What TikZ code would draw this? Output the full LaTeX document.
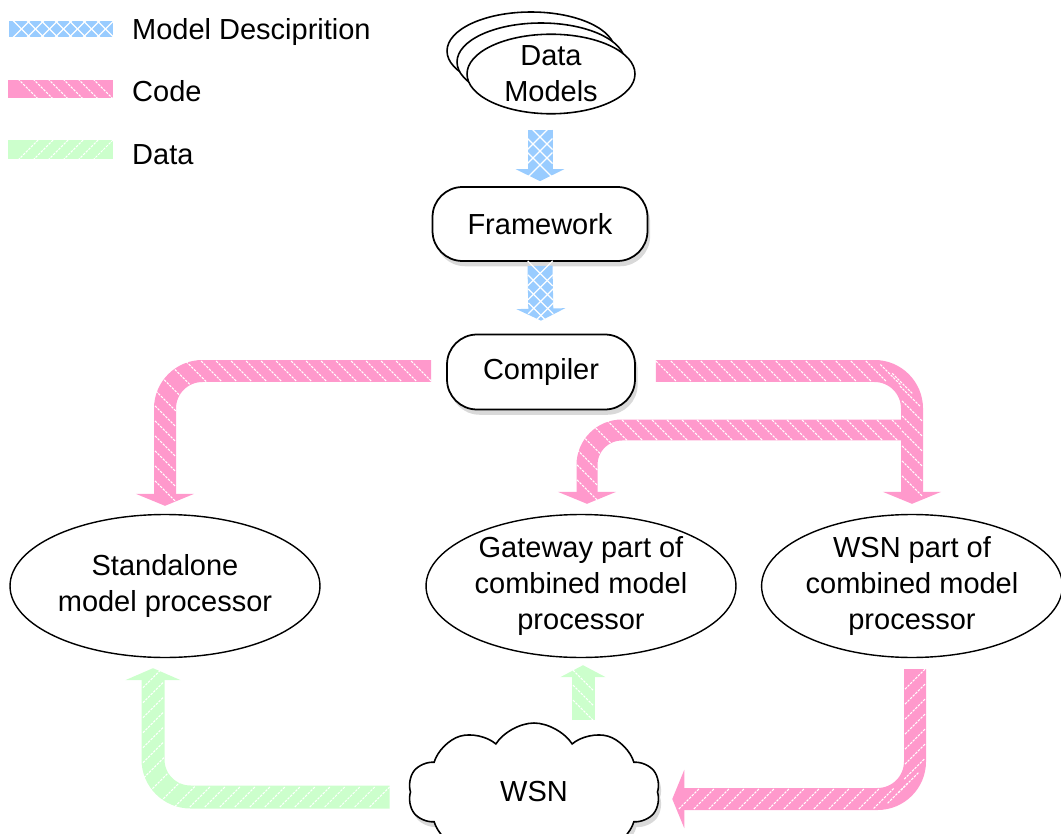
\documentclass[tikz,border=0pt]{standalone}
\usepackage{fontspec}
\setmainfont{Liberation Sans}
\usepackage{xcolor}
\usetikzlibrary{shapes.geometric, shapes.symbols, arrows.meta, positioning, shadows, decorations.markings}

\definecolor{descblue}{RGB}{153,204,255}
\definecolor{codepink}{RGB}{255,153,204}
\definecolor{datagreen}{RGB}{204,255,204}

\tikzset{
    lbl/.style={font=\fontsize{16.5}{20.5}\selectfont, align=center},
    box/.style={lbl, draw, line width=1pt, rounded corners=0.6cm, fill=white,
        drop shadow={opacity=0.3, shadow xshift=1.5pt, shadow yshift=-3pt}},
    proc/.style={lbl, draw, ellipse, line width=0.8pt, fill=white,
        minimum width=6.2cm, minimum height=2.86cm, inner sep=0pt},
    models/.style={lbl, draw, ellipse, line width=0.9pt, fill=white,
        minimum width=3.36cm, minimum height=1.56cm, inner sep=0pt},
    % hatching of the fat arrows
    stripe/.style={-, white, line width=0.6pt, dash pattern=on 1.4pt off 0.7pt},
    hatch back/.style={postaction={decorate, decoration={markings,
        mark=between positions 0.2cm and -0.1cm step 0.3cm with {\pgftransformresetnontranslations
        \draw[stripe] (-0.2cm,0.2cm) -- (0.2cm,-0.2cm);}}}},
    hatch fwd/.style={postaction={decorate, decoration={markings,
        mark=between positions 0.2cm and -0.1cm step 0.3cm with {\pgftransformresetnontranslations
        \draw[stripe] (-0.2cm,-0.2cm) -- (0.2cm,0.2cm);}}}},
    hatch cross/.style={postaction={decorate, decoration={markings,
        mark=between positions 0.15cm and -0.1cm step 0.28cm with {\pgftransformresetnontranslations
        \draw[stripe, solid, line width=0.7pt] (-0.25cm,0.25cm) -- (0.25cm,-0.25cm);
        \draw[stripe, solid, line width=0.7pt] (-0.25cm,-0.25cm) -- (0.25cm,0.25cm);}}}},
    codeband/.style={draw=codepink, line width=0.44cm, #1},
    codeband/.default=hatch back,
    databand/.style={draw=datagreen, line width=0.46cm, #1},
    databand/.default=hatch fwd,
    descband/.style={draw=descblue, line width=0.5cm, hatch cross},
    fattip/.style={-{Triangle[width=#1, length=0.24cm]}},
    fattip/.default=1.16cm
}

\begin{document}
\begin{tikzpicture}[x=0.02cm, y=-0.02cm]
    \useasboundingbox (0,0) rectangle (1061,834);

    % Legend
    \node[lbl, anchor=west] (ldesc) at (126,32) {Model Desciprition};
    \node[lbl, anchor=west] (lcode) at (126,91) {Code};
    \node[lbl, anchor=west] (ldata) at (126,155) {Data};
    \draw[descband, line width=0.32cm] ([xshift=-0.26cm, yshift=0.06cm]ldesc.west) -- ++(-2.08cm,0);
    \draw[codeband, line width=0.36cm] ([xshift=-0.26cm, yshift=0.04cm]lcode.west) -- ++(-2.1cm,0);
    \draw[databand, line width=0.38cm] ([xshift=-0.26cm, yshift=0.1cm]ldata.west) -- ++(-2.1cm,0);

    % Data models (stacked)
    \node[models] (dm3) at (531,51) {};
    \node[models] (dm2) at (541,62) {};
    \node[models] (dm) at (551,74) {Data\\Models};

    % Tool chain
    \node[box, minimum width=4.3cm, minimum height=1.48cm] (fw) at (540,224) {Framework};
    \node[box, minimum width=3.76cm, minimum height=1.5cm] (comp) at (541,372) {Compiler};

    % Model processors
    \node[proc] (sa) at (165,586) {Standalone\\model processor};
    \node[proc] (gw) at (581,586) {Gateway part of\\combined model\\processor};
    \node[proc, minimum width=6cm] (wp) at (912,586) {WSN part of\\combined model\\processor};

    % Network
    \node[lbl, draw, cloud, cloud puffs=10, cloud puff arc=115, cloud ignores aspect,
        line width=0.9pt, fill=white, minimum width=5.04cm, minimum height=2.76cm,
        drop shadow={opacity=0.3, shadow xshift=1.5pt, shadow yshift=-3pt}] (wsn) at (534,792) {WSN};

    % Model description flow
    \draw[descband, fattip=0.97cm] ([yshift=-0.3cm]fw.north |- dm.south) -- ([yshift=0.1cm]fw.north);
    \draw[descband, fattip=0.97cm] ([yshift=-0.08cm]fw.south) -- ([yshift=0.26cm]comp.north);

    % Code flow
    \coordinate (fork) at (912,430);
    \draw[codeband, fattip, line width=0.42cm, rounded corners=0.7cm] (fork) -| ([xshift=0.12cm, yshift=0.2cm]gw.north);
    \draw[codeband, fattip, rounded corners=0.75cm] ([xshift=-0.3cm, yshift=0.02cm]comp.west) -| ([yshift=0.16cm]sa.north);
    \draw[codeband, fattip, rounded corners=0.75cm] ([xshift=0.4cm, yshift=0.02cm]comp.east) -| ([yshift=0.2cm]wp.north);
    \draw[codeband=hatch fwd, fattip, rounded corners=0.75cm] ([xshift=0.06cm, yshift=-0.22cm]wp.south) |- ([xshift=0.28cm, yshift=-0.14cm]wsn.east);

    % Data flow
    \draw[databand, fattip=1.1cm, rounded corners=0.75cm] ([xshift=-0.4cm, yshift=-0.1cm]wsn.west) -| ([xshift=-0.24cm, yshift=-0.2cm]sa.south);
    \draw[databand=hatch back, fattip=0.9cm] ([xshift=0.04cm, yshift=0.04cm]gw.south |- wsn.north) -- ([xshift=0.04cm, yshift=-0.14cm]gw.south);
\end{tikzpicture}
\end{document}
